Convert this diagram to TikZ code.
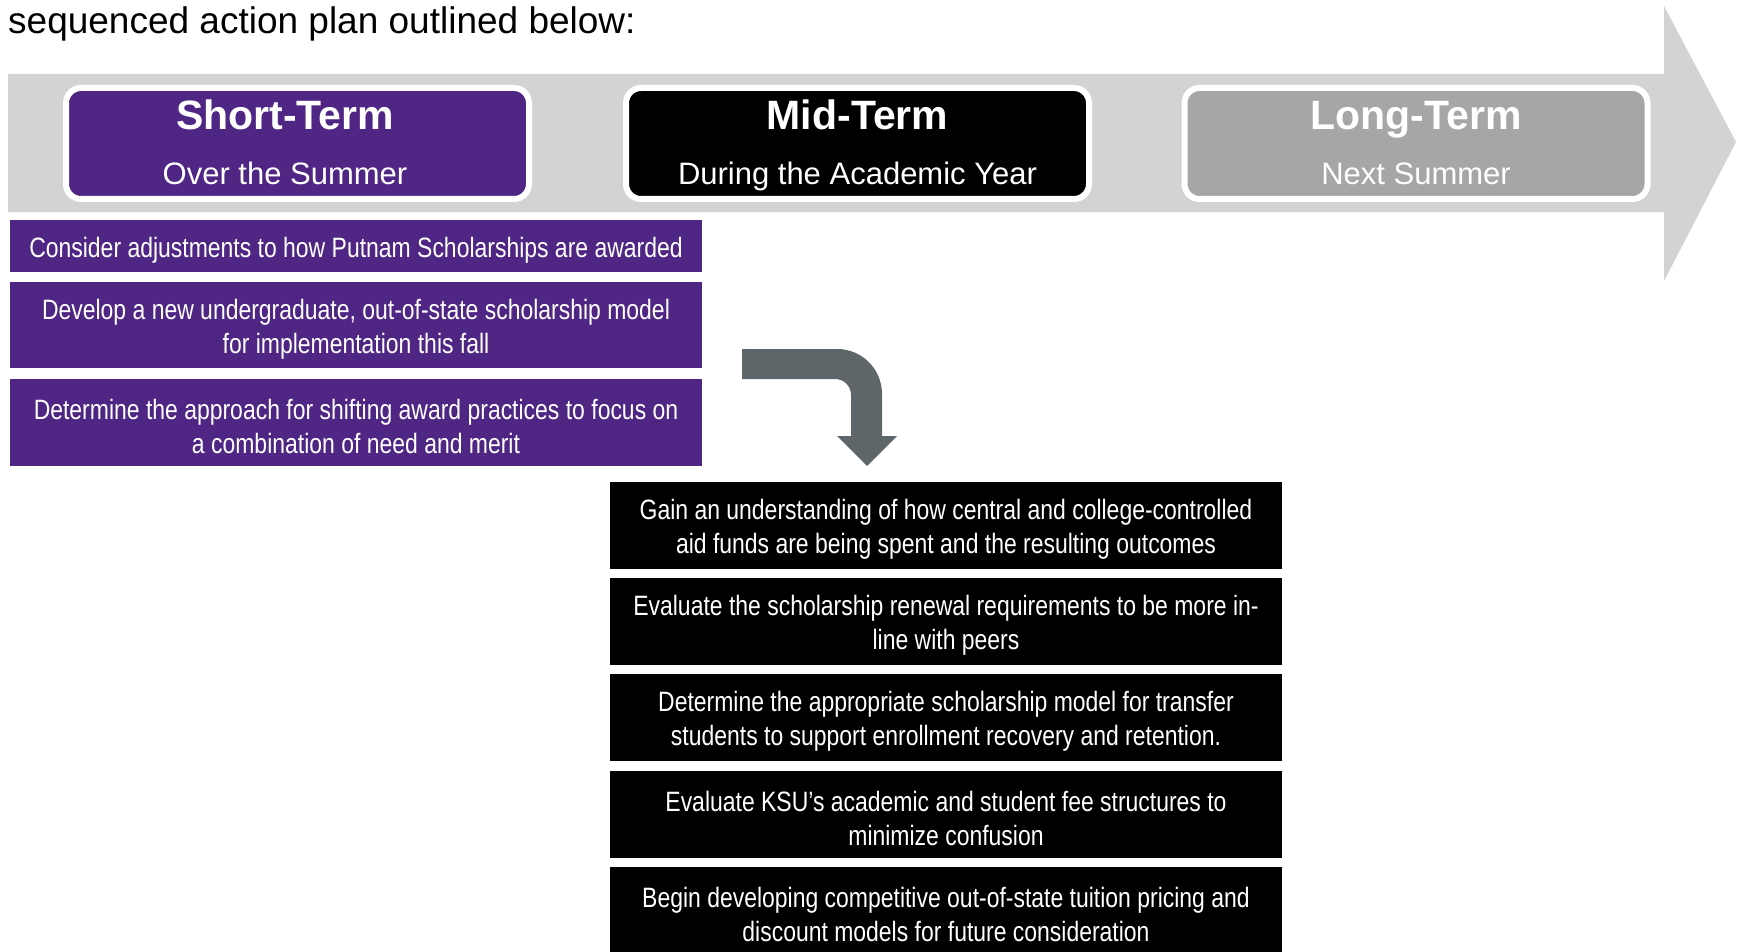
\documentclass[tikz,border=0pt]{standalone}
\usepackage{fontspec}
\setmainfont{Liberation Sans}
\newfontfamily\narrowfont[FakeStretch=0.82]{Liberation Sans}
\usetikzlibrary{positioning}
\definecolor{ksupurple}{HTML}{4F2683}
\definecolor{bandgray}{HTML}{D3D3D3}
\definecolor{longgray}{HTML}{A6A6A6}
\definecolor{arrowgray}{HTML}{5E6669}
\newcommand{\actstrut}{\rule{0pt}{28pt}}

\begin{document}
\begin{tikzpicture}[
		x=1pt, y=-1pt,
		every phase/.style={draw=white, line width=6pt, rounded corners=15pt, minimum width=463pt, minimum height=111pt, inner sep=0pt},
		phase title/.style={anchor=base, text=white, inner sep=0pt, font=\fontsize{41}{41}\selectfont\bfseries},
		phase sub/.style={anchor=base, text=white, inner sep=0pt, font=\fontsize{31}{31}\selectfont},
		action/.style={text=white, align=center, inner sep=0pt, font=\narrowfont\fontsize{28}{34}\selectfont},
		action short/.style={action, fill=ksupurple, minimum width=692pt},
		action mid/.style={action, fill=black, minimum width=672pt, minimum height=87pt},
		node distance=9pt
	]
	\useasboundingbox (0,0) rectangle (1739,952);

	\node [anchor=base west, inner sep=0pt, font=\fontsize{37}{37}\selectfont] (intro) at (8,34) {sequenced action plan outlined below:};

	% timeline band
	\fill [bandgray] (8,74) -- (1664,74) -- (1664,6) -- (1736,142) -- (1664,281) -- (1664,212) -- (8,212) -- cycle;

	\node [every phase, fill=ksupurple] (short) at (297.5,143.5) {};
	\node [every phase, fill=black] (mid) at (857.5,143.5) {};
	\node [every phase, fill=longgray] (long) at (1416,143.5) {};

	\node [phase title] (short-title) at (285,130) {Short-Term};
	\node [phase sub] (short-sub) at (285,185) {Over the Summer};
	\node [phase title] (mid-title) at (857.5,130) {Mid-Term};
	\node [phase sub] (mid-sub) at (857.5,185) {During the Academic Year};
	\node [phase title] (long-title) at (1416,130) {Long-Term};
	\node [phase sub] (long-sub) at (1416,185) {Next Summer};

	% short-term actions
	\node [action short, minimum height=52pt] (short-1) at (356,246) {\actstrut Consider adjustments to how Putnam Scholarships are awarded};
	\node [action short, minimum height=86pt, below=10pt of short-1] (short-2) {\actstrut Develop a new undergraduate, out-of-state scholarship model\\for implementation this fall};
	\node [action short, minimum height=87pt, below=10pt of short-2] (short-3) {\actstrut Determine the approach for shifting award practices to focus on\\a combination of need and merit};

	% mid-term actions
	\node [action mid] (mid-1) at (946,525) {\actstrut Gain an understanding of how central and college-controlled\\aid funds are being spent and the resulting outcomes};
	\node [action mid, below=of mid-1] (mid-2) {\actstrut Evaluate the scholarship renewal requirements to be more in-\\line with peers};
	\node [action mid, below=of mid-2] (mid-3) {\actstrut Determine the appropriate scholarship model for transfer\\students to support enrollment recovery and retention.};
	\node [action mid, below=of mid-3] (mid-4) {\actstrut Evaluate KSU’s academic and student fee structures to\\minimize confusion};
	\node [action mid, below=of mid-4] (mid-5) {\actstrut Begin developing competitive out-of-state tuition pricing and\\discount models for future consideration};

	% turn arrow
	\fill [arrowgray] (742,349) -- (837,349) .. controls (862,349) and (882,369) .. (882,394)
		-- (882,436) -- (897,436) -- (867,466) -- (837,436) -- (851,436) -- (851,395)
		.. controls (851,386) and (844,379) .. (835,379) -- (742,379) -- cycle;
\end{tikzpicture}
\end{document}
